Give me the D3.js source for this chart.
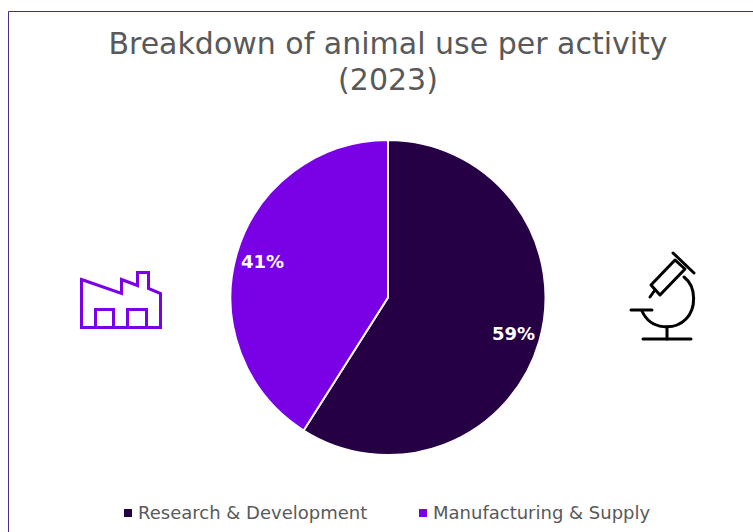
<!DOCTYPE html>
<html>
<head>
<meta charset="utf-8">
<script src="https://cdn.jsdelivr.net/npm/d3@7/dist/d3.min.js"></script>
<style>
  html, body { margin: 0; padding: 0; background: #fff; }
  svg { display: block; }
  text { font-family: "DejaVu Sans", sans-serif; }
</style>
</head>
<body>
<svg id="chart" width="753" height="532"></svg>
<script>
const categories = ["Research & Development", "Manufacturing & Supply"];
const shares = [59, 41];
const sliceColors = ["#250045", "#7a00e6"];
const titleLines = ["Breakdown of animal use per activity", "(2023)"];

const svg = d3.select("#chart");

// Card outline: only the top and left edges fall inside the frame
svg.append("path")
  .attr("d", "M8.5 532V11.5H753")
  .attr("fill", "none")
  .attr("stroke", "#4b2a8a")
  .attr("stroke-width", 1);

// Title
svg.append("g").selectAll("text")
  .data(titleLines)
  .join("text")
  .attr("x", 388)
  .attr("y", (d, i) => 54 + i * 36)
  .attr("text-anchor", "middle")
  .attr("font-size", 30)
  .attr("fill", "#595959")
  .text(d => d);

// Pie, starting at twelve o'clock and running clockwise
const radius = 157.5;
const pie = d3.pie().sort(null).value(d => d);
const arc = d3.arc().innerRadius(0).outerRadius(radius);
const labelArc = d3.arc().innerRadius(radius * 0.83).outerRadius(radius * 0.83);
const color = d3.scaleOrdinal().domain(categories).range(sliceColors);

const pieGroup = svg.append("g").attr("transform", "translate(388,297.5)");
const slices = pie(shares);

pieGroup.selectAll("path")
  .data(slices)
  .join("path")
  .attr("d", arc)
  .attr("fill", (d, i) => color(categories[i]))
  .attr("stroke", "#fff")
  .attr("stroke-width", 2);

pieGroup.selectAll("text")
  .data(slices)
  .join("text")
  .attr("transform", d => `translate(${labelArc.centroid(d)})`)
  .attr("text-anchor", "middle")
  .attr("dy", "0.36em")
  .attr("font-size", 18)
  .attr("font-weight", "bold")
  .attr("fill", "#fff")
  .text(d => `${d.value}%`);

// Legend
const legendX = [123, 418];
const legend = svg.append("g").selectAll("g")
  .data(categories)
  .join("g")
  .attr("transform", (d, i) => `translate(${legendX[i]},513)`);

legend.append("rect")
  .attr("x", 1)
  .attr("y", -4)
  .attr("width", 8)
  .attr("height", 8)
  .attr("fill", d => color(d));

legend.append("text")
  .attr("x", 15)
  .attr("y", 6)
  .attr("font-size", 18)
  .attr("fill", "#595959")
  .text(d => d);

// Factory pictogram beside the manufacturing slice
const factory = svg.append("g")
  .attr("fill", "none")
  .attr("stroke", sliceColors[1])
  .attr("stroke-width", 3);
factory.append("path").attr("d", "M81.5 279.5L121.5 293.5V279.5L137.5 285.5V272.5H148.5V288.5L160.5 293.5V327.5H81.5Z");
factory.append("path").attr("d", "M95.5 327.5V309.5H113.5V327.5M127.5 327.5V309.5H146.5V327.5");

// Microscope pictogram beside the research slice
const scope = svg.append("g")
  .attr("fill", "none")
  .attr("stroke", "#000")
  .attr("stroke-width", 3)
  .attr("stroke-linecap", "round")
  .attr("stroke-linejoin", "round");
scope.append("path").attr("d", "M651 285L675 260L685 269L660 295Z");
scope.append("path").attr("d", "M673 253L694 273");
scope.append("path").attr("d", "M655 290L650 297");
scope.append("path").attr("d", "M684 277C697 287 696 309 686 319C675 330 651 331 642 311");
scope.append("path").attr("d", "M631 310H652");
scope.append("path").attr("d", "M667 327V339");
scope.append("path").attr("d", "M643 339H691");
</script>
</body>
</html>
